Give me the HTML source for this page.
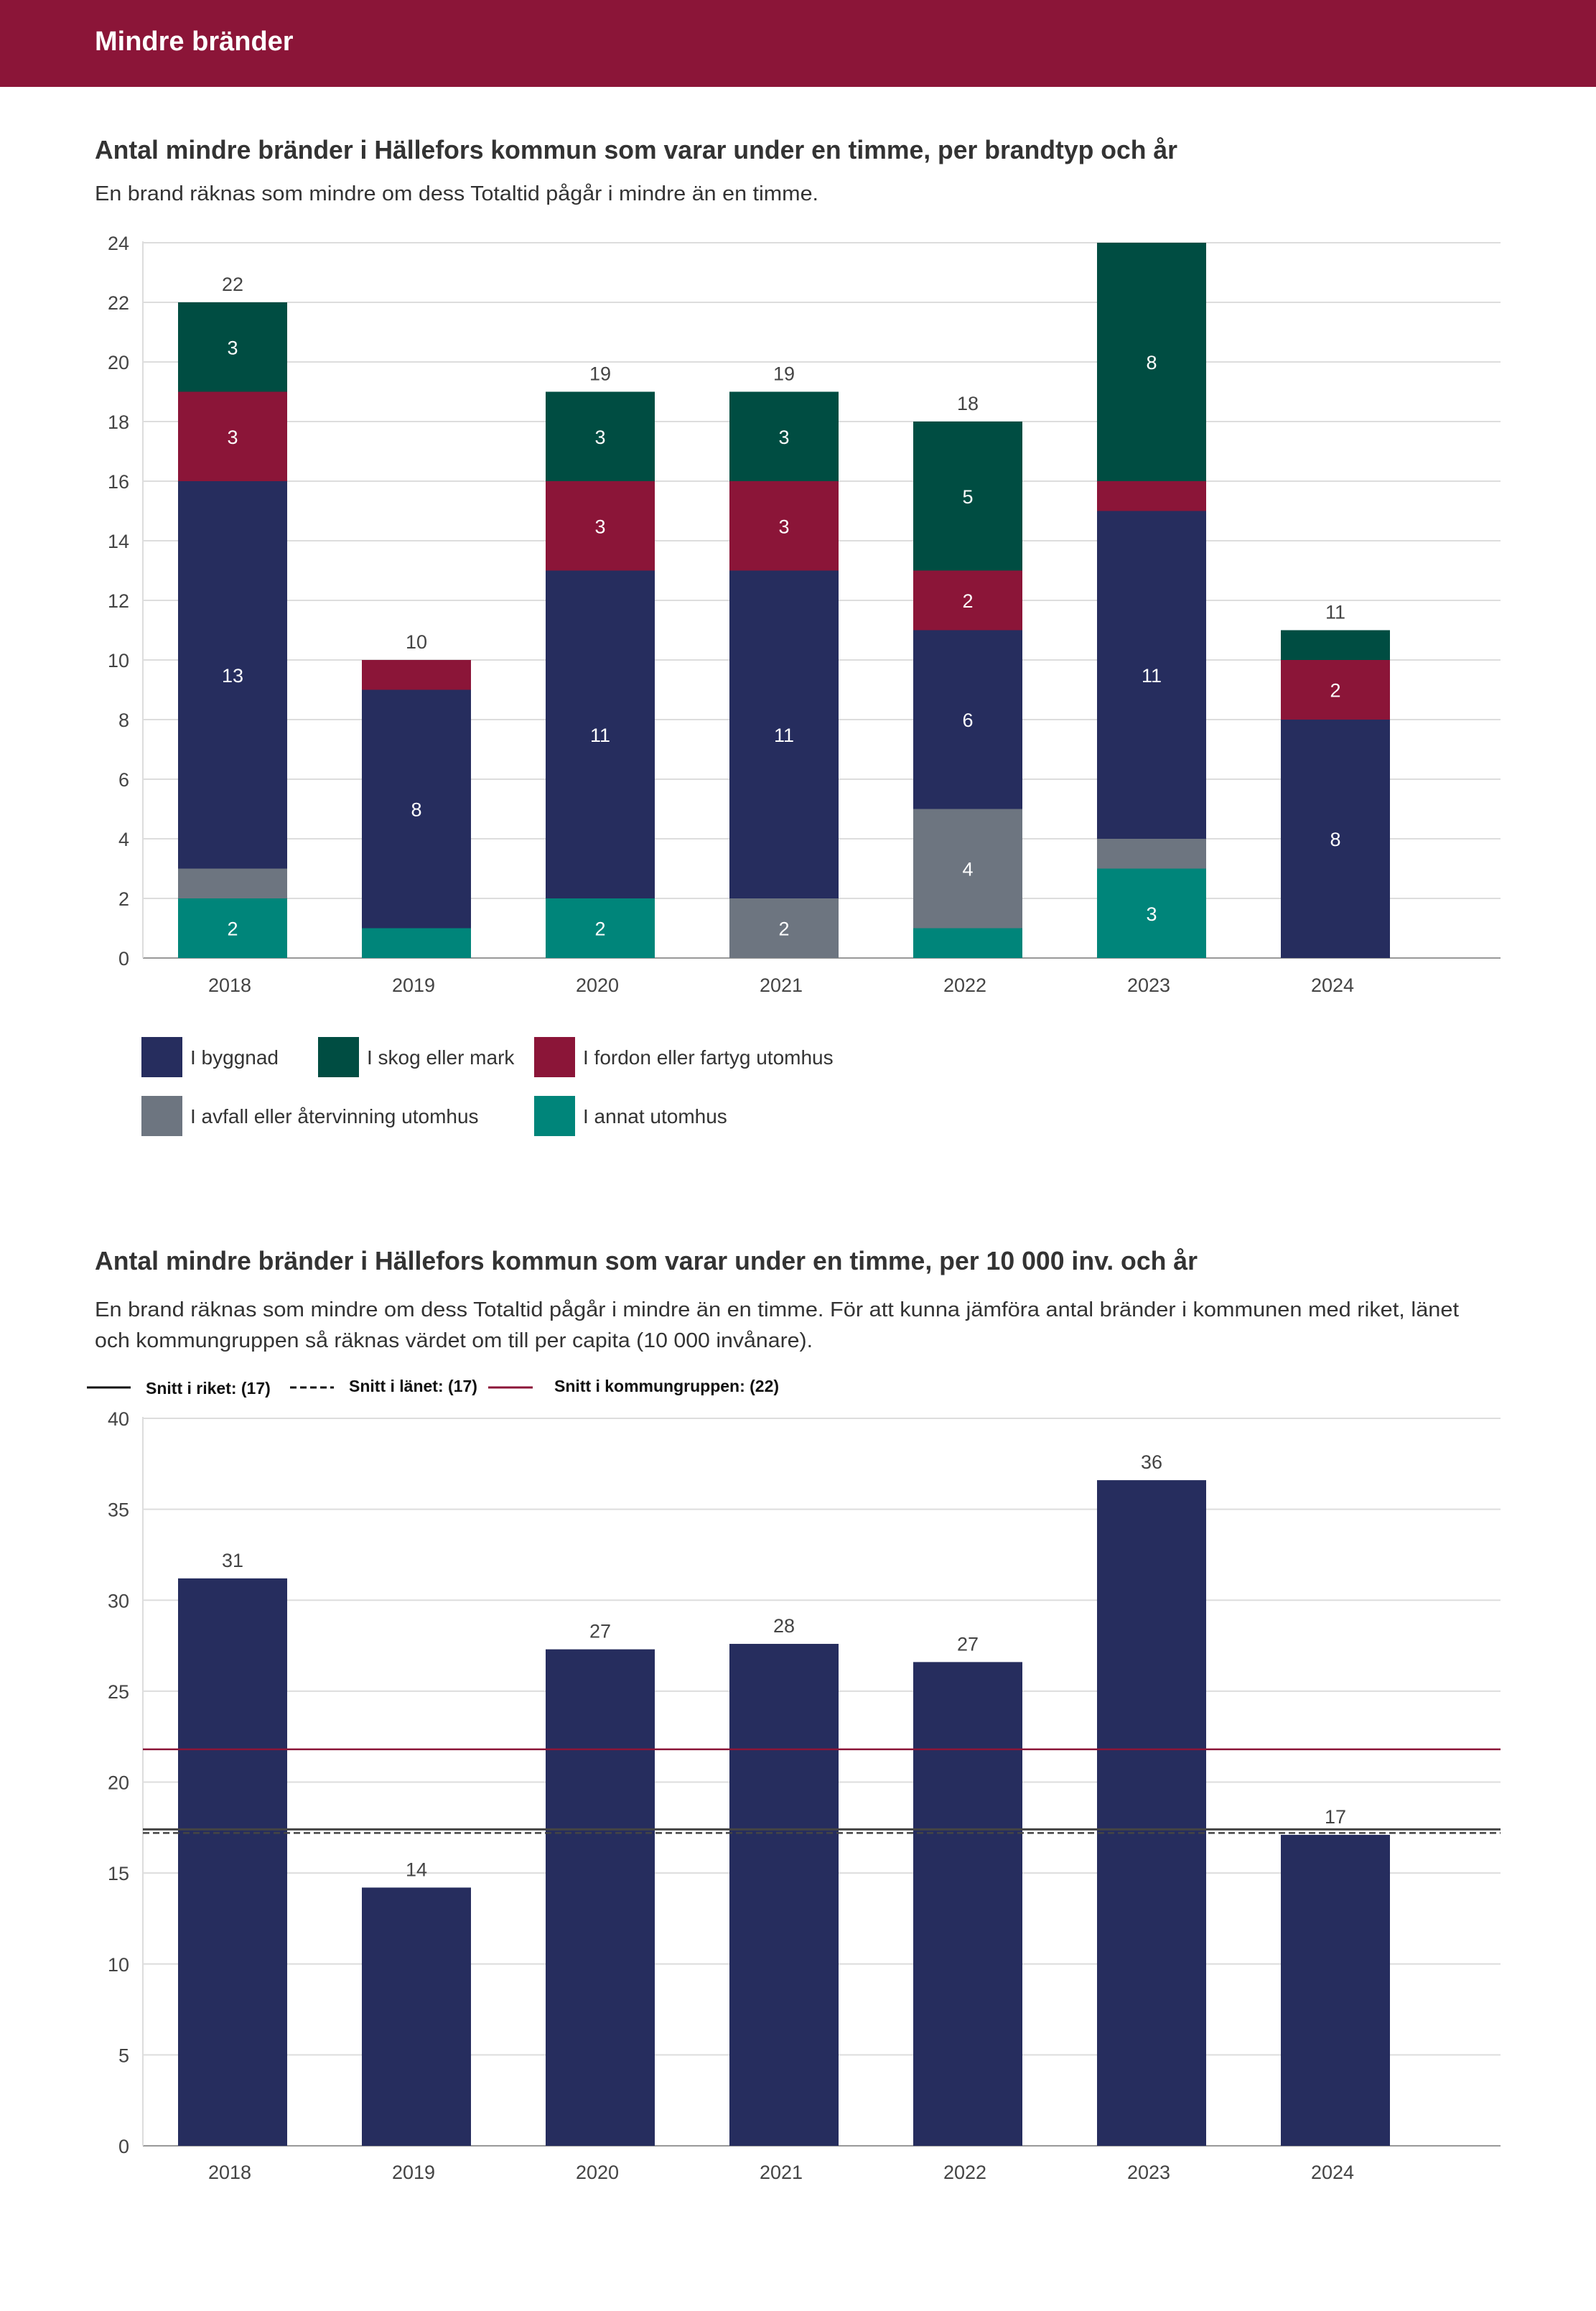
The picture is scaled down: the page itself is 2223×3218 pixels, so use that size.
<!DOCTYPE html>
<html><head><meta charset="utf-8"><style>
body{margin:0;background:#fff;}
svg text{font-family:"Liberation Sans",sans-serif;}
</style></head><body>
<svg id="page" width="2223" height="3213" viewBox="0 0 2223 3213" xmlns="http://www.w3.org/2000/svg">
<rect x="0" y="0" width="2223" height="121" fill="#8b1538"/>
<text x="132" y="70" font-size="38" font-weight="bold" fill="#fff">Mindre bränder</text>
<text x="132" y="221" font-size="36" font-weight="bold" fill="#333" textLength="1508" lengthAdjust="spacingAndGlyphs">Antal mindre bränder i Hällefors kommun som varar under en timme, per brandtyp och år</text>
<text x="132" y="279" font-size="29" fill="#333" textLength="1008" lengthAdjust="spacingAndGlyphs">En brand räknas som mindre om dess Totaltid pågår i mindre än en timme.</text>
<g id="chart1"></g>
<g id="legend1"></g>
<text x="132" y="1768" font-size="36" font-weight="bold" fill="#333" textLength="1536" lengthAdjust="spacingAndGlyphs">Antal mindre bränder i Hällefors kommun som varar under en timme, per 10 000 inv. och år</text>
<text x="132" y="1833" font-size="29" fill="#333" textLength="1900" lengthAdjust="spacingAndGlyphs">En brand räknas som mindre om dess Totaltid pågår i mindre än en timme. För att kunna jämföra antal bränder i kommunen med riket, länet</text>
<text x="132" y="1876" font-size="29" fill="#333" textLength="1000" lengthAdjust="spacingAndGlyphs">och kommungruppen så räknas värdet om till per capita (10 000 invånare).</text>
<g>
<line x1="121" y1="1932" x2="182" y2="1932" stroke="#111" stroke-width="3"/>
<text x="203" y="1941" font-size="23" font-weight="bold" fill="#111">Snitt i riket: (17)</text>
<line x1="404" y1="1932" x2="465" y2="1932" stroke="#111" stroke-width="3" stroke-dasharray="9,5"/>
<text x="486" y="1938" font-size="23" font-weight="bold" fill="#111">Snitt i länet: (17)</text>
<line x1="680" y1="1932" x2="742" y2="1932" stroke="#8b1538" stroke-width="3"/>
<text x="772" y="1938" font-size="23" font-weight="bold" fill="#111">Snitt i kommungruppen: (22)</text>
</g>
<g id="chart2"></g>
</svg>
<script>
const years = ["2018","2019","2020","2021","2022","2023","2024"];
const seriesNames = ["I annat utomhus","I avfall eller återvinning utomhus","I byggnad","I fordon eller fartyg utomhus","I skog eller mark"];
const annat = [2,1,2,0,1,3,0];
const avfall = [1,0,0,2,4,1,0];
const byggnad = [13,8,11,11,6,11,8];
const fordon = [3,1,3,3,2,1,2];
const skog = [3,0,3,3,5,8,1];
const totals = [22,10,19,19,18,24,11];
const yTicks1 = [0,2,4,6,8,10,12,14,16,18,20,22,24];
const perCapita = [31.2,14.2,27.3,27.6,26.6,36.6,17.1];
const perCapitaLabels = ["31","14","27","28","27","36","17"];
const yTicks2 = [0,5,10,15,20,25,30,35,40];
const avgRiket = 17.4;
const avgLanet = 17.2;
const avgKommungrupp = 21.8;

const NS="http://www.w3.org/2000/svg";
function mk(tag,attrs,parent,txt){const e=document.createElementNS(NS,tag);for(const k in attrs)e.setAttribute(k,attrs[k]);if(txt!==undefined)e.textContent=txt;parent.appendChild(e);return e;}
const colors=["#00857a","#6d7580","#262d5e","#8b1538","#004d42"];
const left=199,right=2090,step=256,bw=152,firstC=324;
function xc(i){return firstC+i*step;}

// chart 1
const c1=document.getElementById('chart1');
const y1=v=>1334-(1334-338)*v/24;
yTicks1.forEach(t=>{
  const g=mk('line',{x1:left,x2:right,y1:y1(t),y2:y1(t),stroke:t===0?'#999':'#ddd','stroke-width':2},c1);
  
  const l=mk('text',{x:180,y:y1(t)+10,'font-size':27,'text-anchor':'end',fill:'#444'},c1,String(t));
  
});
let ax=mk('line',{x1:left,x2:left,y1:336,y2:1334,stroke:'#ddd','stroke-width':2},c1);

const stacks=[annat,avfall,byggnad,fordon,skog];
years.forEach((yr,i)=>{
  let base=0;
  stacks.forEach((s,k)=>{
    const v=s[i];if(!v)return;
    const r=mk('rect',{x:xc(i)-bw/2,y:y1(base+v),width:bw,height:y1(base)-y1(base+v),fill:colors[k]},c1);
    
    if(v>=2){const t=mk('text',{x:xc(i),y:(y1(base)+y1(base+v))/2+10,'font-size':27,'text-anchor':'middle',fill:'#fff'},c1,String(v));
      }
    base+=v;
  });
  if(totals[i]<24){const t=mk('text',{x:xc(i),y:y1(base)-16,'font-size':27,'text-anchor':'middle',fill:'#444'},c1,String(totals[i]));
    }
  const xl=mk('text',{x:xc(i)-4,y:1381,'font-size':27,'text-anchor':'middle',fill:'#444'},c1,yr);
  
});
// legend 1
const lg=document.getElementById('legend1');
const legItems=[[2,197,1444,"I byggnad"],[4,443,1444,"I skog eller mark"],[3,744,1444,"I fordon eller fartyg utomhus"],[1,197,1526,"I avfall eller återvinning utomhus"],[0,744,1526,"I annat utomhus"]];
legItems.forEach(it=>{
  const r=mk('rect',{x:it[1],y:it[2],width:57,height:56,fill:colors[it[0]]},lg);
  
  const t=mk('text',{x:it[1]+68,y:it[2]+38,'font-size':28,fill:'#333'},lg,it[3]);
  
});

// chart 2
const c2=document.getElementById('chart2');
const y2=v=>2988-(2988-1975)*v/40;
yTicks2.forEach(t=>{
  const g=mk('line',{x1:left,x2:right,y1:y2(t),y2:y2(t),stroke:t===0?'#999':'#ddd','stroke-width':2},c2);
  
  const l=mk('text',{x:180,y:y2(t)+10,'font-size':27,'text-anchor':'end',fill:'#444'},c2,String(t));
  
});
ax=mk('line',{x1:left,x2:left,y1:1973,y2:2988,stroke:'#ddd','stroke-width':2},c2);

years.forEach((yr,i)=>{
  const r=mk('rect',{x:xc(i)-bw/2,y:y2(perCapita[i]),width:bw,height:2988-y2(perCapita[i]),fill:'#262d5e'},c2);
  
  const t=mk('text',{x:xc(i),y:y2(perCapita[i])-16,'font-size':27,'text-anchor':'middle',fill:'#444'},c2,perCapitaLabels[i]);
  
  const xl=mk('text',{x:xc(i)-4,y:3034,'font-size':27,'text-anchor':'middle',fill:'#444'},c2,yr);
  
});
let l1=mk('line',{x1:left,x2:right,y1:y2(avgKommungrupp),y2:y2(avgKommungrupp),stroke:'#8b1538','stroke-width':2.5},c2);

let l2=mk('line',{x1:left,x2:right,y1:y2(avgRiket),y2:y2(avgRiket),stroke:'#444','stroke-width':3},c2);

let l3=mk('line',{x1:left,x2:right,y1:y2(avgLanet),y2:y2(avgLanet),stroke:'#444','stroke-width':2.5,'stroke-dasharray':'9,5'},c2);

</script>
</body></html>
